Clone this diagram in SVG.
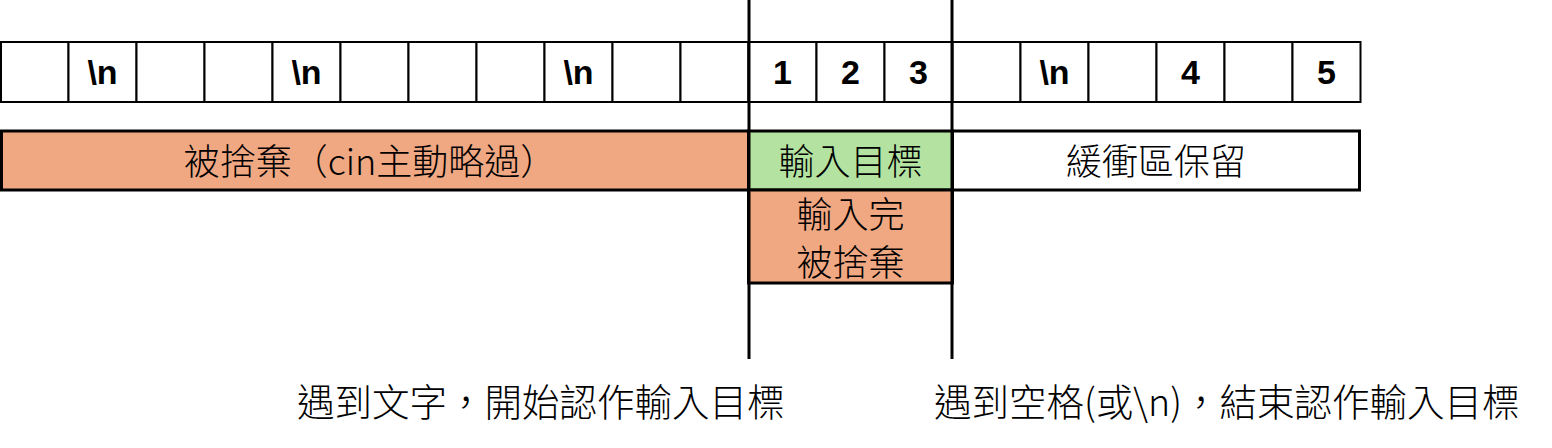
<svg xmlns="http://www.w3.org/2000/svg" width="1552" height="448" viewBox="0 0 1552 448">
<style>
.cell{fill:#fff;stroke:#000;stroke-width:2}
.lbl{font-family:"Liberation Sans",Arial,sans-serif;font-weight:bold;font-size:34px;fill:#000;text-anchor:middle}
.bar{stroke:#000;stroke-width:3}
.cjk{font-family:"Noto Sans CJK TC","Noto Sans CJK SC",sans-serif;font-weight:300;font-size:36px;fill:#000;text-anchor:middle}
.note{font-family:"Noto Sans CJK TC","Noto Sans CJK SC",sans-serif;font-weight:300;font-size:37.5px;fill:#000}
.vline{stroke:#000;stroke-width:3}
</style>
<rect width="1552" height="448" fill="#fff"/>
<g id="cells">
<rect class="cell" x="1" y="42" width="67.5" height="60"/>
<rect class="cell" x="68.5" y="42" width="68" height="60"/>
<rect class="cell" x="136.5" y="42" width="68" height="60"/>
<rect class="cell" x="204.5" y="42" width="68" height="60"/>
<rect class="cell" x="272.5" y="42" width="68" height="60"/>
<rect class="cell" x="340.5" y="42" width="68" height="60"/>
<rect class="cell" x="408.5" y="42" width="68" height="60"/>
<rect class="cell" x="476.5" y="42" width="68" height="60"/>
<rect class="cell" x="544.5" y="42" width="68" height="60"/>
<rect class="cell" x="612.5" y="42" width="68" height="60"/>
<rect class="cell" x="680.5" y="42" width="68" height="60"/>
<rect class="cell" x="748.5" y="42" width="68" height="60"/>
<rect class="cell" x="816.5" y="42" width="68" height="60"/>
<rect class="cell" x="884.5" y="42" width="68" height="60"/>
<rect class="cell" x="952.5" y="42" width="68" height="60"/>
<rect class="cell" x="1020.5" y="42" width="68" height="60"/>
<rect class="cell" x="1088.5" y="42" width="68" height="60"/>
<rect class="cell" x="1156.5" y="42" width="68" height="60"/>
<rect class="cell" x="1224.5" y="42" width="68" height="60"/>
<rect class="cell" x="1292.5" y="42" width="68" height="60"/>
<text class="lbl" x="102.5" y="84">\n</text>
<text class="lbl" x="306.5" y="84">\n</text>
<text class="lbl" x="578.5" y="84">\n</text>
<text class="lbl" x="782.5" y="84">1</text>
<text class="lbl" x="850.5" y="84">2</text>
<text class="lbl" x="918.5" y="84">3</text>
<text class="lbl" x="1054.5" y="84">\n</text>
<text class="lbl" x="1190.5" y="84">4</text>
<text class="lbl" x="1326.5" y="84">5</text>
</g>
<g id="discarded">
<rect class="bar" x="1.5" y="131" width="747" height="59" fill="#F0A883"/>
<text class="cjk" x="370" y="175">被捨棄（cin主動略過）</text>
</g>
<g id="target">
<rect class="bar" x="748.5" y="131" width="204" height="59" fill="#B4E3A1"/>
<text class="cjk" x="850.5" y="175">輸入目標</text>
</g>
<g id="buffer">
<rect class="bar" x="952.5" y="131" width="407" height="59" fill="#fff"/>
<text class="cjk" x="1156" y="175">緩衝區保留</text>
</g>
<g id="done">
<rect class="bar" x="748.5" y="190" width="204" height="93" fill="#F0A883"/>
<text class="cjk" x="850.5" y="228">輸入完</text>
<text class="cjk" x="850.5" y="276">被捨棄</text>
</g>
<g id="connectors">
<line class="vline" x1="749" y1="0" x2="749" y2="359"/>
<line class="vline" x1="952" y1="0" x2="952" y2="359"/>
</g>
<g id="notes">
<text class="note" x="297" y="416">遇到文字，開始認作輸入目標</text>
<text class="note" x="934" y="416">遇到空格(或\n)，結束認作輸入目標</text>
</g>
</svg>
